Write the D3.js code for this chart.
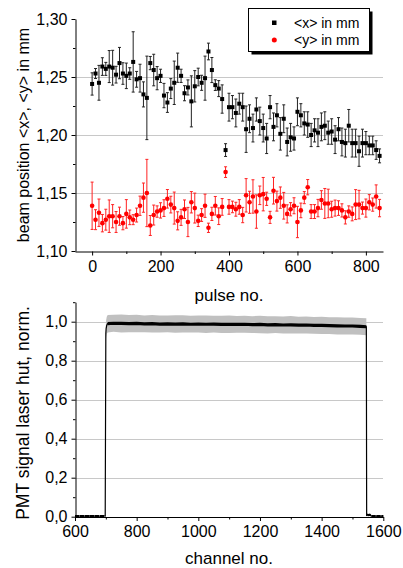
<!DOCTYPE html>
<html>
<head>
<meta charset="utf-8">
<script src="https://cdn.jsdelivr.net/npm/d3@7"></script>
<style>
body { margin: 0; background: #fff; }
svg { font-family: "Liberation Sans", Arial, sans-serif; }
</style>
</head>
<body>
<div id="chart"></div>
<script>
// ---- top panel: beam position per pulse ----
var pulse = [0,10,20,30,40,50,60,70,80,90,100,110,120,130,140,150,160,170,180,190,
  200,210,220,230,240,250,260,270,280,290,300,310,320,330,340,350,360,370,380,390,
  400,410,420,430,440,450,460,470,480,490,500,510,520,530,540,550,560,570,580,590,
  600,610,620,630,640,650,660,670,680,690,700,710,720,730,740,750,760,770,780,790,
  800,810,820,830,840];

var meanX = [1.244,1.253,1.245,1.259,1.257,1.259,1.258,1.252,1.262,1.253,1.251,1.253,1.263,1.248,1.249,1.235,1.232,1.262,1.256,1.249,
  1.251,1.234,1.228,1.240,1.245,1.258,1.251,1.236,1.241,1.229,1.242,1.250,1.245,1.249,1.272,1.256,1.243,1.240,1.231,1.187,
  1.224,1.224,1.219,1.227,1.224,1.205,1.214,1.206,1.222,1.212,1.206,1.197,1.224,1.207,1.217,1.201,1.214,1.194,1.198,1.197,
  1.220,1.217,1.210,1.209,1.200,1.204,1.202,1.207,1.208,1.202,1.203,1.196,1.205,1.194,1.193,1.208,1.193,1.193,1.186,1.193,
  1.193,1.191,1.191,1.187,1.182];

var errX = [.0096,.0043,.015,.0076,.0056,.0138,.015,.0072,.0135,.0093,.011,.005,.026,.0068,.012,.0108,.036,.0057,.0136,.010,
  .0057,.0105,.0085,.0086,.0187,.0126,.0057,.0065,.0065,.022,.0135,.0076,.0065,.019,.0072,.0108,.0046,.0069,.0122,.0055,
  .012,.010,.012,.009,.012,.020,.012,.012,.010,.012,.012,.013,.010,.012,.010,.014,.012,.012,.012,.010,
  .012,.010,.010,.011,.010,.010,.012,.012,.012,.010,.011,.012,.010,.012,.012,.014,.012,.012,.013,.012,
  .010,.008,.008,.008,.006];

var meanY = [1.139,1.127,1.133,1.124,1.127,1.130,1.130,1.125,1.130,1.124,1.132,1.129,1.127,1.131,1.139,1.146,1.150,1.122,1.131,1.134,
  1.135,1.137,1.145,1.140,1.137,1.126,1.129,1.136,1.125,1.142,1.137,1.126,1.131,1.139,1.120,1.132,1.139,1.130,1.138,1.168,
  1.138,1.138,1.136,1.138,1.131,1.148,1.142,1.147,1.134,1.148,1.149,1.145,1.129,1.152,1.143,1.146,1.139,1.132,1.136,1.139,
  1.125,1.135,1.146,1.155,1.134,1.134,1.137,1.144,1.141,1.141,1.136,1.137,1.137,1.135,1.129,1.134,1.132,1.140,1.140,1.137,
  1.137,1.142,1.140,1.147,1.137];

var errY = [.0204,.0086,.0118,.0075,.009,.014,.010,.009,.0078,.0057,.0123,.0063,.0043,.006,.0083,.0126,.029,.0086,.0086,.0049,
  .0066,.0072,.008,.0072,.0138,.0078,.0069,.008,.0126,.0092,.0129,.0049,.0055,.010,.004,.0057,.008,.0072,.0072,.0046,
  .0063,.005,.006,.0063,.0066,.0144,.0095,.0144,.0144,.008,.0144,.0057,.0052,.0115,.0086,.0092,.0115,.0078,.0057,.0069,
  .0135,.0063,.0052,.0066,.006,.006,.0075,.008,.0129,.0123,.0069,.0069,.0063,.0057,.0057,.0049,.006,.0129,.0123,.0052,
  .0078,.0066,.0057,.010,.0075];

var topXTicks = [0,200,400,600,800];
var topXMinor = [100,300,500,700];
var topYTicks = [1.10,1.15,1.20,1.25,1.30];
var topYMinor = [1.125,1.175,1.225,1.275];

// ---- bottom panel: PMT signal per channel ----
var channel = [600,625,650,675,698,700,701,703,706,725,750,775,800,825,850,875,900,925,950,975,
  1000,1025,1050,1075,1100,1125,1150,1175,1200,1225,1250,1275,1300,1325,1350,1375,1400,1425,1450,1475,
  1500,1525,1545,1546,1548,1552,1556,1560,1580,1600];
var pmt = [0.004,0.003,0.004,0.003,0.004,0.940,0.965,0.982,0.990,0.992,0.991,0.990,0.991,0.989,0.990,0.988,0.989,0.988,0.989,0.987,
  0.988,0.987,0.988,0.986,0.987,0.986,0.987,0.985,0.986,0.984,0.985,0.983,0.984,0.982,0.983,0.981,0.981,0.980,0.979,0.978,
  0.978,0.976,0.974,0.004,0.012,0.008,0.010,0.004,0.003,0.003];
var pmtErr = [0.002,0.002,0.002,0.002,0.002,0.040,0.043,0.044,0.045,0.044,0.046,0.044,0.045,0.043,0.045,0.044,0.043,0.045,0.044,0.043,
  0.044,0.045,0.043,0.044,0.045,0.043,0.044,0.043,0.045,0.044,0.043,0.044,0.045,0.043,0.044,0.043,0.044,0.043,0.044,0.043,
  0.044,0.043,0.044,0.002,0.003,0.003,0.003,0.002,0.002,0.002];

var botXTicks = [600,800,1000,1200,1400,1600];
var botXMinor = [700,900,1100,1300,1500];
var botYTicks = [0,0.2,0.4,0.6,0.8,1.0];
var botYMinor = [0.1,0.3,0.5,0.7,0.9,1.1];

var comma = d3.formatLocale({decimal: ",", thousands: ".", grouping: [3], currency: ["", ""]});

var svg = d3.select("#chart").append("svg")
    .attr("width", 403)
    .attr("height", 568);

// scales
var x1 = d3.scaleLinear().domain([-50, 850]).range([75, 383]);
var y1 = d3.scaleLinear().domain([1.10, 1.30]).range([251, 19]);
var x2 = d3.scaleLinear().domain([600, 1600]).range([75, 383.3]);
var y2 = d3.scaleLinear().domain([0, 1.1]).range([516.7, 302.2]);

function styleAxis(g) {
  g.selectAll("path, line").attr("stroke", "#000").attr("stroke-width", 1);
  g.selectAll("text").attr("fill", "#000").style("font-size", "16px")
    .style("font-family", "'Liberation Sans', Arial, sans-serif");
}

// ===== top panel =====
var topPanel = svg.append("g");

// grid
topPanel.selectAll(".grid")
    .data([1.15, 1.20, 1.25])
  .enter().append("line")
    .attr("x1", 75).attr("x2", 383)
    .attr("y1", function(d){ return Math.round(y1(d)) + 0.5; })
    .attr("y2", function(d){ return Math.round(y1(d)) + 0.5; })
    .attr("stroke", "#c8c8c8").attr("stroke-width", 1);

// axes
topPanel.append("g")
    .attr("transform", "translate(0,251.5)")
    .call(d3.axisBottom(x1).tickValues(topXMinor).tickSize(2.5).tickFormat(""))
    .call(styleAxis).select(".domain").remove();
topPanel.append("g")
    .attr("transform", "translate(0,251.5)")
    .call(d3.axisBottom(x1).tickValues(topXTicks).tickSizeInner(4).tickSizeOuter(0).tickPadding(5)
      .tickFormat(d3.format("d")))
    .call(styleAxis);
topPanel.append("g")
    .attr("transform", "translate(75.5,0)")
    .call(d3.axisLeft(y1).tickValues(topYMinor).tickSize(2.5).tickFormat(""))
    .call(styleAxis).select(".domain").remove();
topPanel.append("g")
    .attr("transform", "translate(75.5,0)")
    .call(d3.axisLeft(y1).tickValues(topYTicks).tickSizeInner(4).tickSizeOuter(0).tickPadding(4)
      .tickFormat(comma.format(".2f")))
    .call(styleAxis);

// error bars + markers
function drawSeries(vals, errs, lineColor) {
  var pts = pulse.map(function(p, i){ return {p: p, v: vals[i], e: errs[i]}; });
  var g = topPanel.append("g");
  g.selectAll(".eb").data(pts).enter().append("line")
      .attr("x1", function(d){ return x1(d.p); })
      .attr("x2", function(d){ return x1(d.p); })
      .attr("y1", function(d){ return y1(d.v - d.e); })
      .attr("y2", function(d){ return y1(d.v + d.e); })
      .attr("stroke", lineColor).attr("stroke-width", 1);
  g.selectAll(".cap1").data(pts).enter().append("line")
      .attr("x1", function(d){ return x1(d.p) - 1.5; })
      .attr("x2", function(d){ return x1(d.p) + 1.5; })
      .attr("y1", function(d){ return y1(d.v + d.e); })
      .attr("y2", function(d){ return y1(d.v + d.e); })
      .attr("stroke", lineColor).attr("stroke-width", 1);
  g.selectAll(".cap2").data(pts).enter().append("line")
      .attr("x1", function(d){ return x1(d.p) - 1.5; })
      .attr("x2", function(d){ return x1(d.p) + 1.5; })
      .attr("y1", function(d){ return y1(d.v - d.e); })
      .attr("y2", function(d){ return y1(d.v - d.e); })
      .attr("stroke", lineColor).attr("stroke-width", 1);
  return g.selectAll(".mk").data(pts).enter();
}

drawSeries(meanX, errX, "#222").append("rect")
    .attr("x", function(d){ return x1(d.p) - 2; })
    .attr("y", function(d){ return y1(d.v) - 2; })
    .attr("width", 4).attr("height", 4)
    .attr("fill", "#000");

drawSeries(meanY, errY, "#f22").append("circle")
    .attr("cx", function(d){ return x1(d.p); })
    .attr("cy", function(d){ return y1(d.v); })
    .attr("r", 2.3)
    .attr("fill", "#f00");

// legend
var lg = topPanel.append("g");
lg.append("rect").attr("x", 251.5).attr("y", 11.5).attr("width", 121).attr("height", 43).attr("fill", "#000");
lg.append("rect").attr("x", 248.5).attr("y", 8.5).attr("width", 121).attr("height", 43)
    .attr("fill", "#fff").attr("stroke", "#000").attr("stroke-width", 1);
lg.append("rect").attr("x", 272).attr("y", 20.5).attr("width", 4.5).attr("height", 4.5).attr("fill", "#000");
lg.append("circle").attr("cx", 274.3).attr("cy", 40).attr("r", 2.5).attr("fill", "#f00");
lg.append("text").attr("x", 294).attr("y", 27.5).text("<x> in mm").style("font-size", "14px");
lg.append("text").attr("x", 294).attr("y", 45).text("<y> in mm").style("font-size", "14px");

// titles
topPanel.append("text")
    .attr("x", 229).attr("y", 301)
    .attr("text-anchor", "middle")
    .style("font-size", "17px")
    .text("pulse no.");
topPanel.append("text")
    .attr("transform", "translate(29,135) rotate(-90)")
    .attr("text-anchor", "middle")
    .style("font-size", "16px")
    .text("beam position <x>, <y> in mm");

// ===== bottom panel =====
var botPanel = svg.append("g");

botPanel.selectAll(".grid")
    .data([0.2, 0.4, 0.6, 0.8, 1.0])
  .enter().append("line")
    .attr("x1", 75).attr("x2", 383)
    .attr("y1", function(d){ return Math.round(y2(d)) + 0.5; })
    .attr("y2", function(d){ return Math.round(y2(d)) + 0.5; })
    .attr("stroke", "#c8c8c8").attr("stroke-width", 1);

var pmtPts = channel.map(function(c, i){ return {c: c, v: pmt[i], e: pmtErr[i]}; });

botPanel.append("path")
    .datum(pmtPts)
    .attr("fill", "#c0c0c0")
    .attr("d", d3.area()
      .x(function(d){ return x2(d.c); })
      .y0(function(d){ return y2(d.v - d.e); })
      .y1(function(d){ return y2(d.v + d.e); }));

var pmtLine = d3.line()
    .x(function(d){ return x2(d.c); })
    .y(function(d){ return y2(d.v); });

// thin trace incl. the rising and falling edges
botPanel.append("path")
    .datum(pmtPts)
    .attr("fill", "none")
    .attr("stroke", "#000")
    .attr("stroke-width", 1.2)
    .attr("d", pmtLine);

// noisy plateau and baselines drawn thicker
[pmtPts.filter(function(d){ return d.c < 700; }),
 pmtPts.filter(function(d){ return d.c > 703 && d.c < 1546; }),
 pmtPts.filter(function(d){ return d.c > 1546; })].forEach(function(seg, i){
  botPanel.append("path")
      .datum(seg)
      .attr("fill", "none")
      .attr("stroke", "#000")
      .attr("stroke-width", i == 1 ? 3.2 : 2)
      .attr("stroke-dasharray", i == 1 ? null : "4,1")
      .attr("d", pmtLine);
});

botPanel.append("g")
    .attr("transform", "translate(0,517)")
    .call(d3.axisBottom(x2).tickValues(botXMinor).tickSize(2.5).tickFormat(""))
    .call(styleAxis).select(".domain").remove();
botPanel.append("g")
    .attr("transform", "translate(0,517)")
    .call(d3.axisBottom(x2).tickValues(botXTicks).tickSizeInner(4).tickSizeOuter(0).tickPadding(5)
      .tickFormat(d3.format("d")))
    .call(styleAxis);
botPanel.append("g")
    .attr("transform", "translate(75.5,0)")
    .call(d3.axisLeft(y2).tickValues(botYMinor).tickSize(2.5).tickFormat(""))
    .call(styleAxis).select(".domain").remove();
botPanel.append("g")
    .attr("transform", "translate(75.5,0)")
    .call(d3.axisLeft(y2).tickValues(botYTicks).tickSizeInner(4).tickSizeOuter(0).tickPadding(4)
      .tickFormat(comma.format(".1f")))
    .call(styleAxis);

botPanel.append("text")
    .attr("x", 229).attr("y", 564)
    .attr("text-anchor", "middle")
    .style("font-size", "17px")
    .text("channel no.");
botPanel.append("text")
    .attr("transform", "translate(29,413) rotate(-90)")
    .attr("text-anchor", "middle")
    .style("font-size", "17.5px")
    .text("PMT signal laser hut, norm.");
</script>
</body>
</html>
